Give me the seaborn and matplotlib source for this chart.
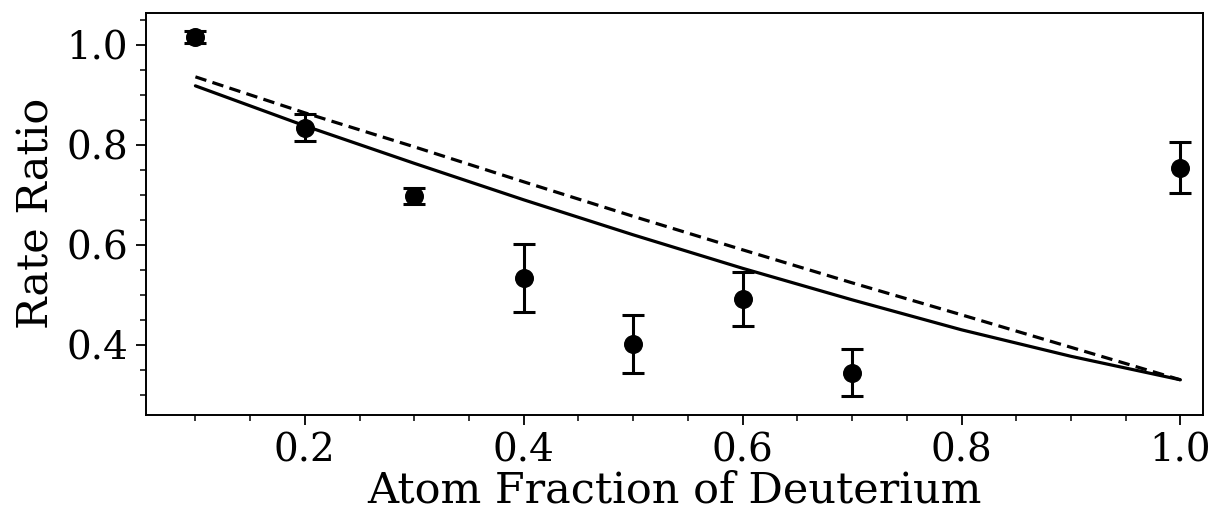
import numpy as np
import pandas as pd
import matplotlib
matplotlib.use("Agg")
import matplotlib.pyplot as plt
from matplotlib.ticker import AutoMinorLocator
import seaborn as sns

# Measured rate ratios with uncertainties
frac_measured = [0.1, 0.2, 0.3, 0.4, 0.5, 0.6, 0.7, 1.0]
ratio_measured = [1.016, 0.834, 0.698, 0.534, 0.402, 0.492, 0.344, 0.754]
ratio_err = [0.012, 0.027, 0.016, 0.068, 0.058, 0.054, 0.047, 0.051]

# Model curves
frac_model = [0.1, 0.2, 0.3, 0.4, 0.5, 0.6, 0.7, 0.8, 0.9, 1.0]
ratio_model_solid = [0.918, 0.838, 0.763, 0.690, 0.620, 0.553, 0.490, 0.430, 0.377, 0.330]
ratio_model_dashed = [0.936, 0.864, 0.796, 0.726, 0.657, 0.590, 0.524, 0.460, 0.395, 0.330]

sns.set_style("ticks")
plt.rcParams["font.family"] = ["DejaVu Serif"]
for key in ["text.color", "axes.labelcolor", "xtick.color", "ytick.color", "axes.edgecolor"]:
    plt.rcParams[key] = "black"

fig = plt.figure(figsize=(12.18, 5.14), dpi=100)
ax = fig.add_axes([0.12, 0.193, 0.868, 0.782])

models = pd.DataFrame({"frac": frac_model, "solid": ratio_model_solid,
                       "dashed": ratio_model_dashed})
sns.lineplot(data=models, x="frac", y="solid", ax=ax, color="black", lw=2.3)
sns.lineplot(data=models, x="frac", y="dashed", ax=ax, color="black", lw=2.3,
             linestyle=(0, (3.6, 2.0)))

meas = pd.DataFrame({"frac": frac_measured, "ratio": ratio_measured, "err": ratio_err})
ax.errorbar(meas["frac"], meas["ratio"], yerr=meas["err"], fmt="none",
            ecolor="black", elinewidth=2.2, capsize=8, capthick=2.2)
sns.scatterplot(data=meas, x="frac", y="ratio", ax=ax, color="black", s=160,
                edgecolor="black", zorder=3)

ax.set_xlim(0.055, 1.021)
ax.set_ylim(0.26, 1.064)
ax.set_xticks([0.2, 0.4, 0.6, 0.8, 1.0])
ax.set_yticks([0.4, 0.6, 0.8, 1.0])
ax.xaxis.set_minor_locator(AutoMinorLocator(4))
ax.yaxis.set_minor_locator(AutoMinorLocator(4))
ax.tick_params(which="major", labelsize=28, length=7, width=1.3, direction="out",
               pad=6, colors="black")
ax.tick_params(which="minor", length=4.5, width=1.1, direction="out", colors="black")
for s in ax.spines.values():
    s.set_visible(True)
    s.set_linewidth(1.4)
    s.set_color("black")

ax.set_xlabel("Atom Fraction of Deuterium", fontsize=31, labelpad=0)
ax.set_ylabel("Rate Ratio", fontsize=31, labelpad=6)

fig.savefig("out.png", dpi=100)
